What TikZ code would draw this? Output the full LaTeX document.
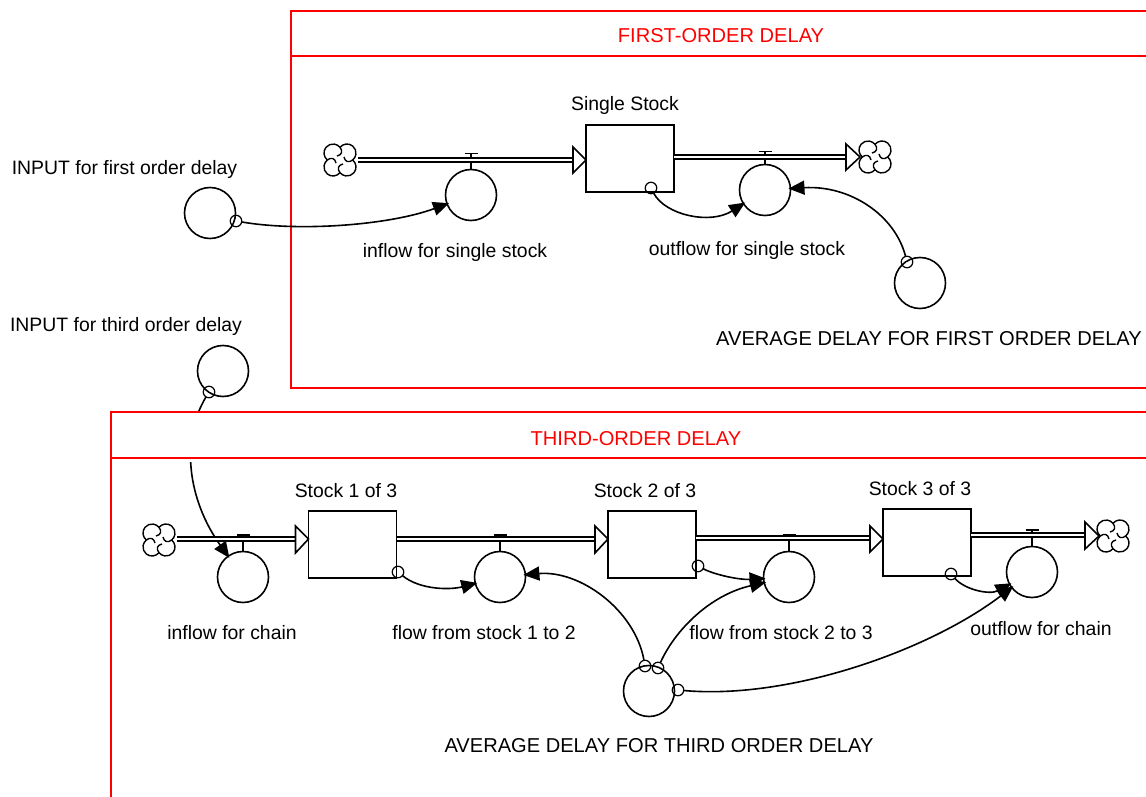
\documentclass[tikz,border=0pt]{standalone}
\usepackage{fontspec}
\setmainfont{Liberation Sans}
\usetikzlibrary{arrows.meta}
\tikzset{
  x=1pt,y=-1pt,
  every node/.style={inner sep=0pt,outer sep=0pt},
  lab/.style={font=\fontsize{19.4}{22}\selectfont,text=black,text height=14pt,text depth=4pt},
  caplab/.style={font=\fontsize{20.1}{22}\selectfont,text=black,text height=14pt,text depth=4pt},
  redlab/.style={font=\fontsize{20.1}{22}\selectfont,text=red,text height=14pt,text depth=4pt},
  framestroke/.style={draw=red,line width=1.7pt},
  stockbox/.style={draw=black,line width=1.7pt,fill=white,rectangle,minimum width=88pt,minimum height=67pt},
  aux/.style={draw=black,line width=1.6pt,circle,minimum size=51pt},
  tap/.style={draw=black,line width=1.2pt,circle,minimum size=11.5pt},
  link/.style={draw=black,line width=1.6pt,shorten >=-2pt,-{Triangle[length=16pt,width=14pt]}},
  pipe/.style={draw=black,line width=1.6pt,double=white,double distance=2.6pt},
  head/.style={draw=black,line width=1.6pt,fill=white,line join=miter},
  valve/.style={draw=black,line width=1.3pt},
  cloudicon/.pic={
    \foreach \r in {0,90,180,270}{
      \begin{scope}[rotate=\r]
      \draw[line width=1.4pt] (0,-12.66) arc[start angle=219,end angle=411,radius=9];
      \draw[line width=1.4pt] (0,-12.66) .. controls (3,-9) and (2,-5) .. (-3,-4);
      \end{scope}
    }
  }
}
\newcommand{\valveon}[2]{%
  \draw[valve] (#1.north) -- ([yshift=#2*1pt]#1.north);
  \draw[valve] ([xshift=-6.5pt,yshift=#2*1pt]#1.north) -- ([xshift=6.5pt,yshift=#2*1pt]#1.north);
}
\begin{document}
\begin{tikzpicture}
\useasboundingbox (0,0) rectangle (1146,797);
\fill[white] (0,0) rectangle (1146,797);

% first-order frame
\draw[framestroke] (1150,11) -- (291,11) -- (291,388) -- (1150,388);
\draw[framestroke] (291,56) -- (1150,56);
\node[redlab] (t1) at (721,38) {FIRST-ORDER DELAY};

% outside auxiliaries
\node[aux] (inA) at (210,213) {};
\node[aux] (inB) at (223,371) {};
\node[tap] (s1) at (236,221) {};
\node[tap] (s4) at (209,392) {};
\node[aux] (fC) at (243,577) {};

% link that runs beneath the third-order header
\draw[link] (s4) .. controls (180,440) and (188,500) .. (fC);

% third-order frame
\fill[white] (111,412) rectangle (1150,462);
\draw[framestroke] (1150,412) -- (111,412) -- (111,810);
\draw[framestroke] (111,458) -- (1150,458);
\node[redlab] (t2) at (636,440) {THIRD-ORDER DELAY};

% auxiliaries and stocks
\node[aux] (fA) at (471,195) {};
\node[aux] (fB) at (765,190) {};
\node[aux] (avA) at (920,283) {};
\node[aux] (fD) at (500,577) {};
\node[aux] (fE) at (789,577) {};
\node[aux] (fF) at (1032,572) {};
\node[aux] (avB) at (649,691) {};

\node[stockbox] (st0) at (630,158.5) {};
\node[stockbox] (st1) at (352.5,544.5) {};
\node[stockbox] (st2) at (652,544.5) {};
\node[stockbox] (st3) at (927,542.5) {};

\node[tap] (s2) at (651,188) {};
\node[tap] (s3) at (907,262) {};
\node[tap] (s5) at (398,572) {};
\node[tap] (s6) at (645,666) {};
\node[tap] (s7) at (698,566) {};
\node[tap] (s8) at (658,668) {};
\node[tap] (s9) at (678,690) {};
\node[tap] (s10) at (951,574) {};

% valves
\valveon{fA}{16}
\valveon{fB}{13}
\valveon{fC}{16.5}
\valveon{fD}{16.5}
\valveon{fE}{16.5}
\valveon{fF}{16.5}

% clouds
\coordinate (c1) at (340,160);
\coordinate (c2) at (875,157);
\coordinate (c3) at (159,540);
\coordinate (c4) at (1113,536);
\pic at (c1) {cloudicon};
\pic at (c2) {cloudicon};
\pic at (c3) {cloudicon};
\pic at (c4) {cloudicon};

% pipes
\draw[pipe] ([xshift=18pt]c1) -- ([xshift=-12pt]c1 -| st0.west);
\draw[head] ([xshift=-13pt,yshift=-13pt]c1 -| st0.west) -- ([yshift=0pt]c1 -| st0.west) -- ([xshift=-13pt,yshift=13pt]c1 -| st0.west) -- cycle;
\draw[pipe] (st0.east |- c2) -- ([xshift=-28pt]c2);
\draw[head] ([xshift=-29pt,yshift=-13pt]c2) -- ([xshift=-15pt]c2) -- ([xshift=-29pt,yshift=13pt]c2) -- cycle;
\draw[pipe] ([xshift=18pt,yshift=1pt]c3) -- ([xshift=-12pt,yshift=1pt]c3 -| st1.west);
\draw[head] ([xshift=-13pt,yshift=-13pt]c3 -| st1.west) -- ([yshift=1pt]c3 -| st1.west) -- ([xshift=-13pt,yshift=14pt]c3 -| st1.west) -- cycle;
\draw[pipe] ([yshift=1pt]st1.east |- c3) -- ([xshift=-12pt,yshift=1pt]c3 -| st2.west);
\draw[head] ([xshift=-13pt,yshift=-13pt]c3 -| st2.west) -- ([yshift=1pt]c3 -| st2.west) -- ([xshift=-13pt,yshift=14pt]c3 -| st2.west) -- cycle;
\draw[pipe] ([yshift=2pt]st2.east |- c3) -- ([xshift=-12pt,yshift=2pt]c3 -| st3.west);
\draw[head] ([xshift=-13pt,yshift=-12pt]c3 -| st3.west) -- ([yshift=1pt]c3 -| st3.west) -- ([xshift=-13pt,yshift=14pt]c3 -| st3.west) -- cycle;
\draw[pipe] ([yshift=1pt]st3.east |- c4) -- ([xshift=-27pt,yshift=1pt]c4);
\draw[head] ([xshift=-28pt,yshift=-13pt]c4) -- ([xshift=-14pt]c4) -- ([xshift=-28pt,yshift=14pt]c4) -- cycle;

% links
\draw[link] (s1) .. controls (300,232) and (390,225) .. (fA);
\draw[link] (s2) .. controls (665,215) and (710,225) .. (fB);
\draw[link] (s3) .. controls (895,215) and (850,185) .. (fB);
\draw[link] (s5) .. controls (420,590) and (450,590) .. (fD);
\draw[link] (s6) .. controls (635,610) and (580,570) .. (fD);
\draw[link] (s7) .. controls (715,575) and (740,580) .. (fE);
\draw[link] (s8) .. controls (675,630) and (710,595) .. (fE);
\draw[link] (s9) .. controls (790,700) and (930,650) .. (fF);
\draw[link] (s10) .. controls (965,590) and (990,595) .. (fF);

% labels
\node[lab] (l1) at (625,106) {Single Stock};
\node[lab] (l2) at (124.5,170) {INPUT for first order delay};
\node[lab] (l3) at (455,252) {inflow for single stock};
\node[lab] (l4) at (747,250) {outflow for single stock};
\node[caplab] (l5) at (929,340) {AVERAGE DELAY FOR FIRST ORDER DELAY};
\node[lab] (l6) at (126,326) {INPUT for third order delay};
\node[lab] (l7) at (346,492) {Stock 1 of 3};
\node[lab] (l8) at (645,492) {Stock 2 of 3};
\node[lab] (l9) at (920,490) {Stock 3 of 3};
\node[lab] (l10) at (232,634) {inflow for chain};
\node[lab] (l11) at (484,634) {flow from stock 1 to 2};
\node[lab] (l12) at (781,634) {flow from stock 2 to 3};
\node[lab] (l13) at (1041,630) {outflow for chain};
\node[caplab] (l14) at (659,747) {AVERAGE DELAY FOR THIRD ORDER DELAY};
\end{tikzpicture}
\end{document}
